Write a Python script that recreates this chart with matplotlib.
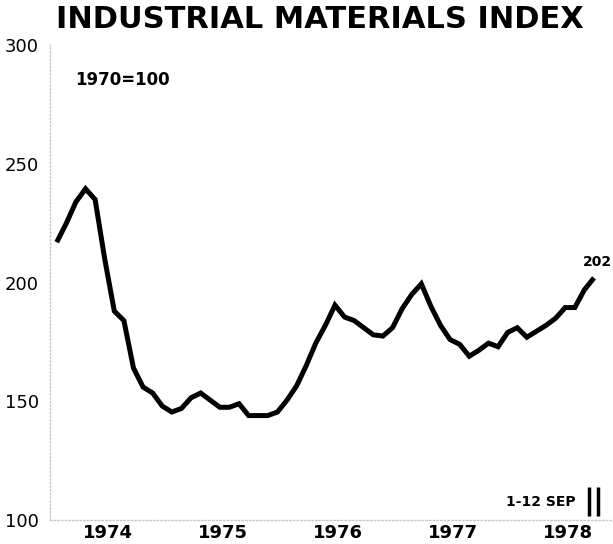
import matplotlib
matplotlib.use("Agg")
import matplotlib.pyplot as plt

# CONFIGURATION
start_year = 1974
years = [1974, 1975, 1976, 1977, 1978]

# monthly index, Jan 1974 .. Sep 1978 (1970=100)
index_values = [
    217, 225, 234, 239.5, 235, 210, 188, 184, 164, 156, 153.5, 148,
    145.5, 147, 151.5, 153.5, 150.5, 147.5, 147.5, 149, 144, 144, 144, 145.5,
    150.5, 156.5, 165, 174.5, 182, 190.5, 185.5, 184, 181, 178, 177.5, 181,
    189, 195, 199.5, 190, 182, 176, 174, 169, 171.5, 174.5, 173, 179,
    181, 177, 179.5, 182, 185, 189.5, 189.5, 197, 202,
]
last_label = "202"
period_label = "1-12 SEP"

#################

months = [start_year + (m + 0.7) / 12 for m in range(len(index_values))]

fig = plt.figure(figsize=(6.13, 5.44), dpi=100)
ax = fig.add_axes([0.0816, 0.044, 0.9184, 0.873])

ax.plot(months, index_values, color="black", lw=3.6,
        solid_joinstyle="miter", solid_capstyle="butt")

ax.set_xlim(start_year, 1978.89)
ax.set_ylim(100, 300)

ax.set_xticks([y + 0.5 for y in years])
ax.set_xticklabels([str(y) for y in years], fontsize=13, fontweight="bold")
ax.set_yticks([100, 150, 200, 250, 300])
ax.set_yticklabels(["100", "150", "200", "250", "300"], fontsize=13)
ax.tick_params(axis="x", length=0, pad=3)
ax.tick_params(axis="y", length=0, pad=8)

for side in ["top", "right"]:
    ax.spines[side].set_visible(False)
for side in ["left", "bottom"]:
    ax.spines[side].set_color("#c8c8c8")
    ax.spines[side].set_linestyle(":")
    ax.spines[side].set_linewidth(1)

fig.text(0.522, 0.965, "INDUSTRIAL MATERIALS INDEX", ha="center", va="center",
         fontsize=22, fontweight="bold")

ax.text(1974.22, 285.3, "1970=100", ha="left", va="center",
        fontsize=12, fontweight="bold")

# value label at the last point
ax.text(months[-1] + 0.03, index_values[-1] + 6.5, last_label, ha="center",
        va="center", fontsize=10, fontweight="bold")

# period marker at the end of the series
x_end = months[-1]
ax.text(x_end - 0.16, 107.6, period_label, ha="right", va="center",
        fontsize=10, fontweight="bold")
ax.vlines([x_end - 0.04, x_end + 0.035], 101.7, 113.9, color="black", lw=2.5)

fig.savefig("out.png", dpi=100)
